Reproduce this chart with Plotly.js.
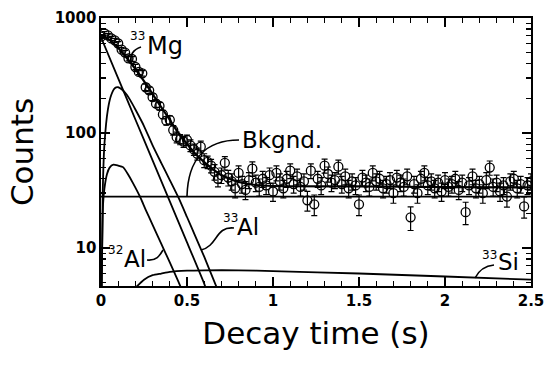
<!DOCTYPE html>
<html>
<head>
<meta charset="utf-8">
<script src="https://cdn.plot.ly/plotly-3.0.1.min.js"></script>
<style>html,body{margin:0;padding:0;background:#fff;}#chart{width:545px;height:365px;}</style>
</head>
<body>
<div id="chart"></div>
<script>
// ---- measured data (decay time in s, counts) ----
const tData = [0,0.02,0.04,0.06,0.08,0.10,0.12,0.14,0.16,0.18,0.20,0.22,0.24,0.26,0.28,0.30,0.32,0.34,0.36,0.38,0.40,0.42,0.44,0.46,0.48,0.50,0.52,0.54,0.56,0.58,0.60,0.62,0.64,0.66,0.68,
0.70,0.72,0.74,0.76,0.78,0.80,0.82,0.84,0.86,0.88,0.90,0.92,0.94,0.96,0.98,1.00,1.02,1.04,1.06,1.08,1.10,1.12,1.14,1.16,1.18,1.20,1.22,1.24,1.26,1.28,1.30,1.32,1.34,1.36,1.38,1.40,1.42,1.44,1.46,1.48,1.50,1.52,1.54,1.56,1.58,1.60,1.62,1.64,1.66,1.68,1.70,1.72,1.74,1.76,1.78,1.80,1.82,1.84,1.86,1.88,1.90,1.92,1.94,1.96,1.98,2.00,2.02,2.04,2.06,2.08,2.10,2.12,2.14,2.16,2.18,2.20,2.22,2.24,2.26,2.28,2.30,2.32,2.34,2.36,2.38,2.40,2.42,2.44,2.46,2.48,2.50];
const countsData = [690,735,705,665,640,600,530,500,445,440,375,340,330,250,235,205,180,172,145,128,130,106,92,88,84,87,78,72,66,76,58,56,52,46,40,
43,55,41,38,33,45,36,32,39,49,37,34,40,35,43,31,45,38,33,40,47,36,42,34,38,26,47,24,40,35,52,44,37,39,51,36,42,33,38,35,24,41,37,34,45,38,40,33,36,39,30,41,37,34,42,18.5,36,30,40,45,35,38,33,37,31,39,34,36,40,32,37,20.5,35,42,33,36,30,39,50,34,37,31,35,28,38,40,33,36,23,35,38];
const errData = [26,27,27,26,25,24,23,22,21,21,19,18,18,16,15,14,13,13,12,11,11,10,10,9,9,9,9,8,8,9,8,7,7,7,6,
6.6,7.4,6.4,6.2,5.7,6.7,6,5.7,6.2,7,6.1,5.8,6.3,5.9,6.6,5.6,6.7,6.2,5.7,6.3,6.9,6,6.5,5.8,6.2,5.1,6.9,4.9,6.3,5.9,7.2,6.6,6.1,6.2,7.1,6,6.5,5.7,6.2,5.9,4.9,6.4,6.1,5.8,6.7,6.2,6.3,5.7,6,6.2,5.5,6.4,6.1,5.8,6.5,4.3,6,5.5,6.3,6.7,5.9,6.2,5.7,6.1,5.6,6.2,5.8,6,6.3,5.7,6.1,4.5,5.9,6.5,5.7,6,5.5,6.2,7.1,5.8,6.1,5.6,5.9,5.3,6.2,6.3,5.7,6,4.8,5.9,6.2];

// ---- fitted curves ----
const tTotal = [0,0.05,0.1,0.15,0.2,0.25,0.3,0.35,0.4,0.45,0.5,0.55,0.6,0.65,0.7,0.75,0.8,0.9,1.0,1.5,2.0,2.5];
const yTotal = [711,644,548,449,360,283,218,168,130,100,80.2,65.6,55.9,48.6,43.1,39.8,37.5,35.3,34.6,34.3,33.9,33.6];
const tMg33 = [0,0.1,0.2,0.3,0.4,0.5,0.6,0.62];
const yMg33 = [680,299,131,57.8,25.4,11.2,4.9,4.0];
const tAl33 = [0.004,0.01,0.02,0.04,0.06,0.08,0.1,0.12,0.15,0.17,0.2,0.25,0.3,0.35,0.4,0.45,0.5,0.55,0.6,0.65,0.7];
const yAl33 = [4,30,80,160,215,245,250,240,215,193,160,115,78,55,39,27.5,18.6,12.5,8.4,5.5,3.6];
const tAl32 = [0.003,0.012,0.02,0.035,0.05,0.072,0.1,0.128,0.16,0.186,0.227,0.26,0.3,0.35,0.4,0.45,0.48];
const yAl32 = [4,24,33,44,50,53,52,50.5,43,36.7,27.9,21.5,15.9,10.9,7.5,5.1,4.0];
const tSi33 = [0.2,0.25,0.3,0.35,0.4,0.5,0.6,0.8,1.0,1.5,2.0,2.5];
const ySi33 = [4.5,5.3,5.8,6.0,6.2,6.35,6.4,6.4,6.3,6.0,5.65,5.3];
const tBkg = [0,2.5];
const yBkg = [28,28];

// ---- axes ----
const xTickVals = [0,0.5,1,1.5,2,2.5];
const xTickText = ['0','0.5','1','1.5','2','2.5'];
const yTickVals = [10,100,1000];
const yTickText = ['10','100','1000'];
const yMinorVals = [5,6,7,8,9,20,30,40,50,60,70,80,90,200,300,400,500,600,700,800,900];
const xMinorVals = [0.1,0.2,0.3,0.4,0.6,0.7,0.8,0.9,1.1,1.2,1.3,1.4,1.6,1.7,1.8,1.9,2.1,2.2,2.3,2.4];

const lineStyle = (w) => ({color:'black', width:w, shape:'spline', smoothing:0.6});
const traces = [
  {x:[], y:[], xaxis:'x2', yaxis:'y2', mode:'markers', hoverinfo:'skip', showlegend:false},
  {x:tBkg, y:yBkg, mode:'lines', line:{color:'black', width:1.8}, hoverinfo:'skip'},
  {x:tSi33, y:ySi33, mode:'lines', line:lineStyle(1.8), hoverinfo:'skip'},
  {x:tAl32, y:yAl32, mode:'lines', line:lineStyle(1.8), hoverinfo:'skip'},
  {x:tAl33, y:yAl33, mode:'lines', line:lineStyle(1.8), hoverinfo:'skip'},
  {x:tMg33, y:yMg33, mode:'lines', line:lineStyle(1.8), hoverinfo:'skip'},
  {x:tTotal, y:yTotal, mode:'lines', line:lineStyle(2.2), hoverinfo:'skip'},
  {x:tData, y:countsData, mode:'markers',
   marker:{symbol:'circle-open', size:9, color:'black', line:{width:1.3, color:'black'}},
   error_y:{type:'data', array:errData, visible:true, color:'black', thickness:1.2, width:3}}
];

const tickFont = {family:'DejaVu Sans', size:15, weight:'bold', color:'black'};
const txt = (text, x, y, size, xanchor) => ({text:text, x:x, y:y, xref:'paper', yref:'paper', showarrow:false,
  font:{family:'DejaVu Sans', size:size, color:'black'}, xanchor:xanchor||'center', yanchor:'middle'});
const px = (p) => (p-101)/430;
const py = (p) => (286-p)/268;

const annotations = [
  txt('33', px(137.5), py(36), 12),
  txt('Mg', px(145), py(46), 24, 'left'),
  txt('Bkgnd.', px(282), py(140), 23),
  txt('33', px(230), py(218), 12),
  txt('Al', px(235), py(227), 23, 'left'),
  txt('32', px(115), py(250), 12),
  txt('Al', px(122), py(259), 23, 'left'),
  txt('33', px(489), py(255), 12),
  txt('Si', px(496), py(262), 23, 'left')
];

const shapes = [
  {type:'path', xref:'paper', yref:'paper', line:{color:'black', width:1.6},
   path:`M ${px(141)} ${py(47)} Q ${px(129)} ${py(51)} ${px(131)} ${py(63)}`},
  {type:'path', xref:'paper', yref:'paper', line:{color:'black', width:1.6},
   path:`M ${px(239)} ${py(140)} C ${px(205)} ${py(140)} ${px(188)} ${py(160)} ${px(187)} ${py(196)}`},
  {type:'path', xref:'paper', yref:'paper', line:{color:'black', width:1.6},
   path:`M ${px(234)} ${py(228)} C ${px(215)} ${py(226)} ${px(218)} ${py(246)} ${px(201)} ${py(250)}`},
  {type:'path', xref:'paper', yref:'paper', line:{color:'black', width:1.6},
   path:`M ${px(147)} ${py(260)} C ${px(157)} ${py(261)} ${px(160)} ${py(255)} ${px(163)} ${py(250)}`},
  {type:'path', xref:'paper', yref:'paper', line:{color:'black', width:1.6},
   path:`M ${px(494)} ${py(265)} C ${px(484)} ${py(266)} ${px(478)} ${py(272)} ${px(475)} ${py(278)}`}
];

const minorAxis = {ticks:'inside', ticklen:5, tickwidth:1.3, tickcolor:'black',
  showticklabels:false, showgrid:false, zeroline:false, showline:true, linewidth:1.6, linecolor:'black', mirror:'allticks'};

const layout = {
  width:545, height:365,
  margin:{l:101, r:14, t:18, b:79},
  paper_bgcolor:'white', plot_bgcolor:'white',
  showlegend:false,
  font:{family:'DejaVu Sans', color:'black'},
  xaxis:{range:[0,2.5], tickmode:'array', tickvals:xTickVals, ticktext:xTickText,
    ticks:'inside', ticklen:9, tickwidth:1.6, tickcolor:'black',
    showline:true, linewidth:1.6, linecolor:'black', mirror:'allticks',
    showgrid:false, zeroline:false, tickfont:tickFont,
    title:{text:'Decay time (s)', font:{family:'DejaVu Sans', size:31, color:'black'}, standoff:14}},
  yaxis:{type:'log', range:[0.6696,3], tickmode:'array', tickvals:yTickVals, ticktext:yTickText,
    ticks:'inside', ticklen:9, tickwidth:1.6, tickcolor:'black',
    showline:true, linewidth:1.6, linecolor:'black', mirror:'allticks',
    showgrid:false, zeroline:false, tickfont:tickFont,
    title:{text:'Counts', font:{family:'DejaVu Sans', size:31, color:'black'}, standoff:12}},
  xaxis2:Object.assign({overlaying:'x', anchor:'y2', side:'bottom', range:[0,2.5], tickmode:'array', tickvals:xMinorVals}, minorAxis),
  yaxis2:Object.assign({overlaying:'y', anchor:'x2', side:'left', type:'log', range:[0.6696,3], tickmode:'array', tickvals:yMinorVals}, minorAxis),
  annotations:annotations,
  shapes:shapes
};

Plotly.newPlot('chart', traces, layout, {staticPlot:true, displayModeBar:false});
</script>
</body>
</html>
